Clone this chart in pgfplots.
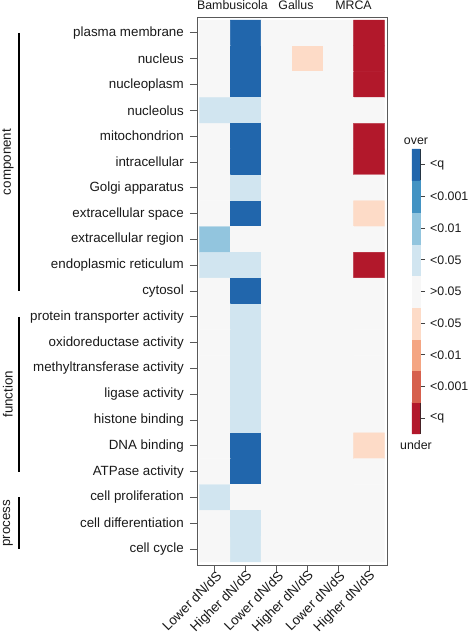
\documentclass[border=0pt]{standalone}
\usepackage{pgfplots}
\usepackage{pgfplotstable}
\pgfplotsset{compat=1.18}
\usepackage{fontspec}
\setmainfont{Liberation Sans}

\pgfplotsset{colormap={rdbu}{rgb255=(178,24,43) rgb255=(214,96,77) rgb255=(244,165,130) rgb255=(253,219,199) rgb255=(247,247,247) rgb255=(209,229,240) rgb255=(146,197,222) rgb255=(67,147,195) rgb255=(33,102,172)}}

% level index: 0=under <q, 1=under <0.001, 2=under <0.01, 3=under <0.05, 4=>0.05, 5=over <0.05, 6=over <0.01, 7=over <0.001, 8=over <q
\pgfplotstableread{
x y c
0 0 4
1 0 8
2 0 4
3 0 4
4 0 4
5 0 0
0 1 4
1 1 8
2 1 4
3 1 3
4 1 4
5 1 0
0 2 4
1 2 8
2 2 4
3 2 4
4 2 4
5 2 0
0 3 5
1 3 5
2 3 4
3 3 4
4 3 4
5 3 4
0 4 4
1 4 8
2 4 4
3 4 4
4 4 4
5 4 0
0 5 4
1 5 8
2 5 4
3 5 4
4 5 4
5 5 0
0 6 4
1 6 5
2 6 4
3 6 4
4 6 4
5 6 4
0 7 4
1 7 8
2 7 4
3 7 4
4 7 4
5 7 3
0 8 6
1 8 4
2 8 4
3 8 4
4 8 4
5 8 4
0 9 5
1 9 5
2 9 4
3 9 4
4 9 4
5 9 0
0 10 4
1 10 8
2 10 4
3 10 4
4 10 4
5 10 4
0 11 4
1 11 5
2 11 4
3 11 4
4 11 4
5 11 4
0 12 4
1 12 5
2 12 4
3 12 4
4 12 4
5 12 4
0 13 4
1 13 5
2 13 4
3 13 4
4 13 4
5 13 4
0 14 4
1 14 5
2 14 4
3 14 4
4 14 4
5 14 4
0 15 4
1 15 5
2 15 4
3 15 4
4 15 4
5 15 4
0 16 4
1 16 8
2 16 4
3 16 4
4 16 4
5 16 3
0 17 4
1 17 8
2 17 4
3 17 4
4 17 4
5 17 4
0 18 5
1 18 4
2 18 4
3 18 4
4 18 4
5 18 4
0 19 4
1 19 5
2 19 4
3 19 4
4 19 4
5 19 4
0 20 4
1 20 5
2 20 4
3 20 4
4 20 4
5 20 4
}\heat

\pgfplotstableread{
x y c
0 0 0
1 0 0
0 1 1
1 1 1
0 2 2
1 2 2
0 3 3
1 3 3
0 4 4
1 4 4
0 5 5
1 5 5
0 6 6
1 6 6
0 7 7
1 7 7
0 8 8
1 8 8
}\cbar

\newcommand{\lblfont}{\fontsize{13.4}{16}\selectfont}
\newcommand{\smfont}{\fontsize{12.4}{15}\selectfont}

\begin{document}
\begin{tikzpicture}
\path[use as bounding box] (0,0) rectangle (472bp,642bp);

\begin{axis}[
  at={(197bp,77bp)}, anchor=south west, scale only axis,
  width=190bp, height=548bp,
  xmin=-0.584, xmax=5.584, ymin=-0.62, ymax=20.62, y dir=reverse,
  axis line style={draw=black!65, line width=1bp},
  tick style={draw=black!65, line width=1bp},
  major tick length=7bp, tick align=outside,
  xtick={0,...,5},
  xticklabels={Lower dN/dS, Higher dN/dS, Lower dN/dS, Higher dN/dS, Lower dN/dS, Higher dN/dS},
  ytick={0,...,20},
  yticklabels={plasma membrane, nucleus, nucleoplasm, nucleolus, mitochondrion, intracellular, Golgi apparatus, extracellular space, extracellular region, endoplasmic reticulum, cytosol, protein transporter activity, oxidoreductase activity, methyltransferase activity, ligase activity, histone binding, DNA binding, ATPase activity, cell proliferation, cell differentiation, cell cycle},
  xtick pos=bottom, ytick pos=left,
  xticklabel style={rotate=45, anchor=east, font=\lblfont, inner sep=1bp, xshift=3bp, yshift=-4bp, text=black!90},
  yticklabel style={font=\lblfont, inner sep=0pt, xshift=-6bp, text=black!90},
  clip=false,
]
\addplot[matrix plot*, mesh/cols=6, point meta=explicit, colormap access=direct] table[x=x, y=y, meta=c] {\heat};
\draw[line width=2bp] (axis cs:-6.364,0) -- (axis cs:-6.364,10);
\draw[line width=2bp] (axis cs:-6.364,11) -- (axis cs:-6.364,17);
\draw[line width=2bp] (axis cs:-6.364,18) -- (axis cs:-6.364,20);
\node[rotate=90, font=\lblfont, text=black!90] at (axis cs:-6.72,5) {component};
\node[rotate=90, font=\lblfont, text=black!90] at (axis cs:-6.72,14) {function};
\node[rotate=90, font=\lblfont, text=black!90] at (axis cs:-6.72,19) {process};
\end{axis}

\node[anchor=base, font=\smfont, text=black!90] at (232.5bp,632bp) {Bambusicola};
\node[anchor=base, font=\smfont, text=black!90] at (296bp,632bp) {Gallus};
\node[anchor=base, font=\smfont, text=black!90] at (353.5bp,632bp) {MRCA};

\begin{axis}[
  at={(412bp,208bp)}, anchor=south west, scale only axis,
  width=8bp, height=285bp,
  xmin=-0.5, xmax=1.5, ymin=-0.5, ymax=8.5,
  xtick=\empty, ytick={0,...,8},
  yticklabels={<q, <0.001, <0.01, <0.05, >0.05, <0.05, <0.01, <0.001, <q},
  ytick pos=right, yticklabel pos=right,
  axis line style={draw=black!85, line width=1bp},
  tick style={draw=black!75, line width=1bp},
  major tick length=5bp, tick align=outside,
  yticklabel style={font=\smfont, anchor=west, inner sep=0pt, xshift=5bp, text=black!90},
  clip=false,
]
\addplot[matrix plot*, mesh/cols=2, point meta=explicit, colormap access=direct] table[x=x, y=y, meta=c] {\cbar};
\node[anchor=base, font=\smfont, text=black!90] at (axis cs:0.5,8.5) [yshift=5bp] {over};
\node[anchor=north, font=\smfont, text=black!90] at (axis cs:0.5,-0.5) [yshift=-3bp] {under};
\end{axis}
\end{tikzpicture}
\end{document}
